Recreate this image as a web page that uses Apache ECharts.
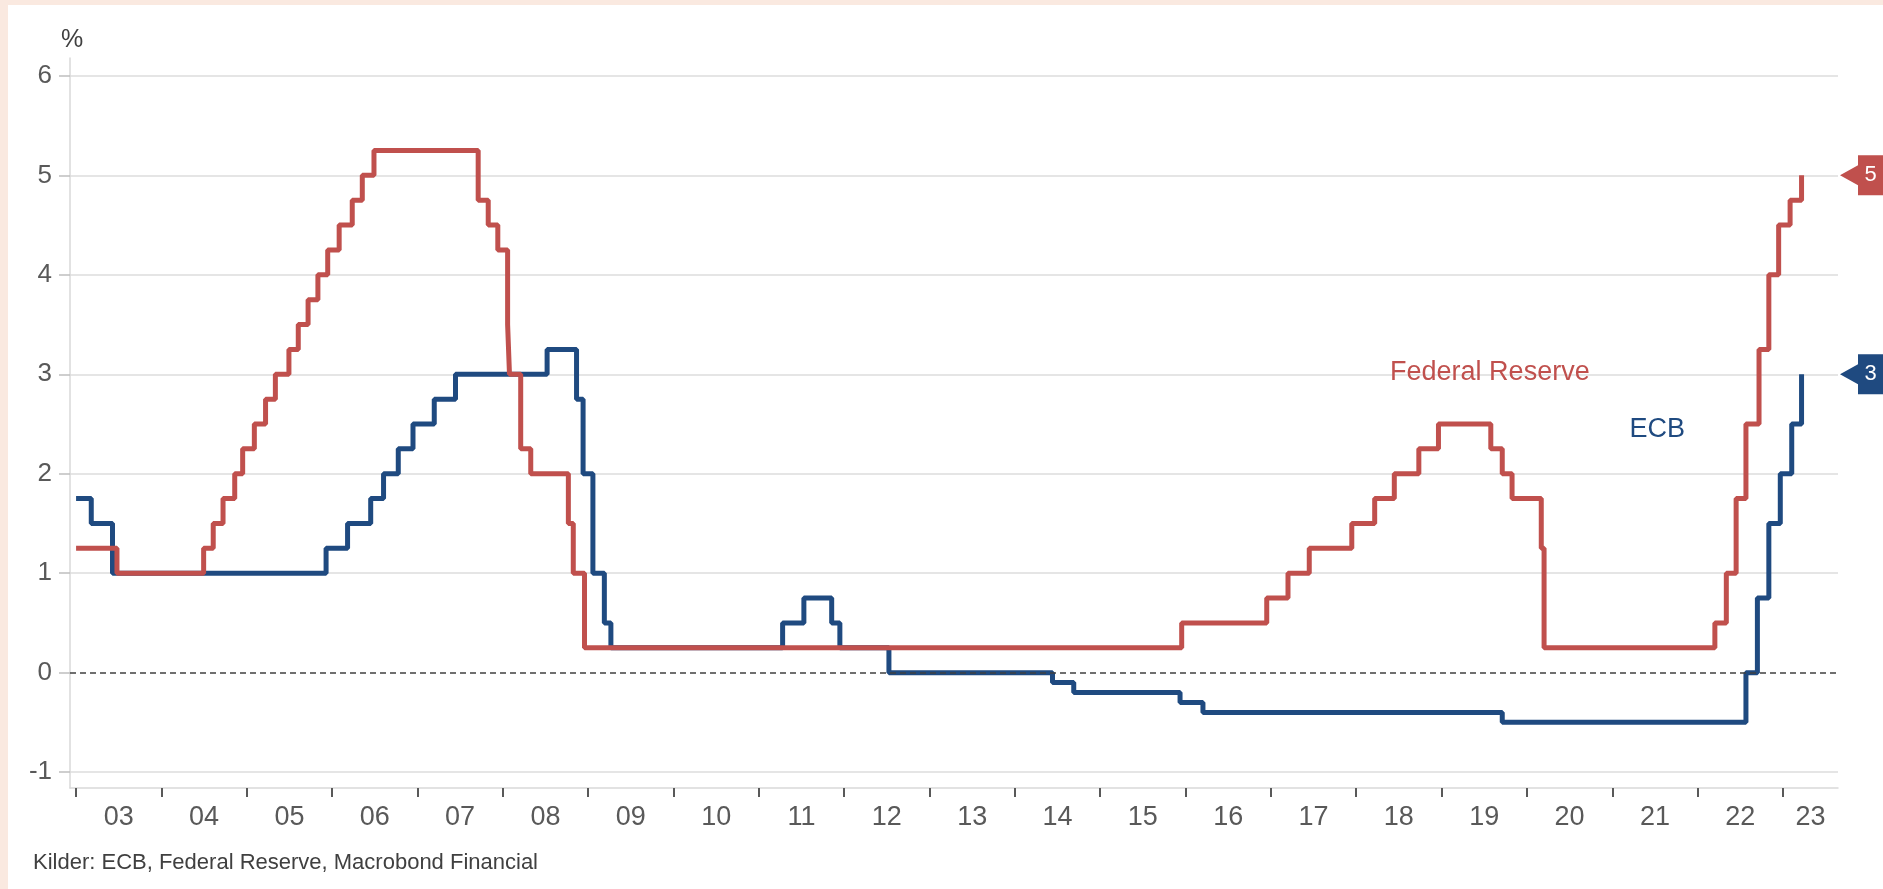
<!DOCTYPE html>
<html>
<head>
<meta charset="utf-8">
<script src="https://cdn.jsdelivr.net/npm/echarts@6.0.0/dist/echarts.min.js"></script>
<style>
  html, body { margin: 0; padding: 0; background: #fae9e0; }
  #chart { position: absolute; left: 8px; top: 5px; width: 1875px; height: 884px; background: #ffffff; }
</style>
</head>
<body>
<div id="chart"></div>
<script>
// ---------- DATA ----------
const yearLabels = ['03','04','05','06','07','08','09','10','11','12','13','14','15','16','17','18','19','20','21','22','23'];
const yTickValues = [-1, 0, 1, 2, 3, 4, 5, 6];

// Federal Reserve (target rate, upper bound) – change dates and new levels
const fedDates = ['2003-01-01','2003-06-25','2004-06-30','2004-08-10','2004-09-21','2004-11-10','2004-12-14',
  '2005-02-02','2005-03-22','2005-05-03','2005-06-30','2005-08-09','2005-09-20','2005-11-01','2005-12-13',
  '2006-01-31','2006-03-28','2006-05-10','2006-06-29','2007-09-18','2007-10-31','2007-12-11','2008-01-22',
  '2008-01-30','2008-03-18','2008-04-30','2008-10-08','2008-10-29','2008-12-16','2015-12-16','2016-12-14',
  '2017-03-15','2017-06-14','2017-12-13','2018-03-21','2018-06-13','2018-09-26','2018-12-19','2019-07-31',
  '2019-09-18','2019-10-30','2020-03-03','2020-03-15','2022-03-16','2022-05-04','2022-06-15','2022-07-27',
  '2022-09-21','2022-11-02','2022-12-14','2023-02-01','2023-03-22'];
const fedRates = [1.25,1.00,1.25,1.50,1.75,2.00,2.25,
  2.50,2.75,3.00,3.25,3.50,3.75,4.00,4.25,
  4.50,4.75,5.00,5.25,4.75,4.50,4.25,3.50,
  3.00,2.25,2.00,1.50,1.00,0.25,0.50,0.75,
  1.00,1.25,1.50,1.75,2.00,2.25,2.50,2.25,
  2.00,1.75,1.25,0.25,0.50,1.00,1.75,2.50,
  3.25,4.00,4.50,4.75,5.00];

// ECB (deposit facility rate) – change dates and new levels
const ecbDates = ['2003-01-01','2003-03-07','2003-06-06','2005-12-06','2006-03-08','2006-06-15','2006-08-09',
  '2006-10-11','2006-12-13','2007-03-14','2007-06-13','2008-07-09','2008-11-12','2008-12-10','2009-01-21',
  '2009-03-11','2009-04-08','2011-04-13','2011-07-13','2011-11-09','2011-12-14','2012-07-11','2014-06-11',
  '2014-09-10','2015-12-09','2016-03-16','2019-09-18','2022-07-27','2022-09-14','2022-11-02','2022-12-21',
  '2023-02-08','2023-03-22'];
const ecbRates = [1.75,1.50,1.00,1.25,1.50,1.75,2.00,
  2.25,2.50,2.75,3.00,3.25,2.75,2.00,1.00,
  0.50,0.25,0.50,0.75,0.50,0.25,0.00,-0.10,
  -0.20,-0.30,-0.40,-0.50,0.00,0.75,1.50,2.00,
  2.50,3.00];

const seriesNames = ['ECB', 'Federal Reserve'];
const sourceText = 'Kilder: ECB, Federal Reserve, Macrobond Financial';

// ---------- BUILD ----------
function ts(s) { const p = s.split('-').map(Number); return Date.UTC(p[0], p[1] - 1, p[2]); }
const xMin = ts('2002-12-06');
const xMax = ts('2023-08-25');

const fedData = fedDates.map((d, i) => [ts(d), fedRates[i]]);
const ecbData = ecbDates.map((d, i) => [ts(d), ecbRates[i]]);

const yearStarts = yearLabels.map(l => Date.UTC(2000 + Number(l), 0, 1));
const labelMap = {};
const labelValues = yearLabels.map((l, i) => {
  const a = Math.max(yearStarts[i], xMin);
  const b = Math.min(Date.UTC(2000 + Number(l) + 1, 0, 1), xMax);
  const c = Math.round((a + b) / 2);
  labelMap[c] = l;
  return c;
});

const RED = '#c0504d';
const BLUE = '#1f4a80';
const FONT = 'Liberation Sans, Arial, sans-serif';

const chart = echarts.init(document.getElementById('chart'), null, { renderer: 'canvas' });
const option = {
  animation: false,
  backgroundColor: '#ffffff',
  textStyle: { fontFamily: FONT },
  title: {
    text: sourceText, left: 25, top: 847, padding: 0,
    textStyle: { fontSize: 22, fontWeight: 'normal', color: '#404040', fontFamily: FONT }
  },
  grid: { left: 62, right: 45, top: 53, bottom: 101, containLabel: false },
  xAxis: {
    type: 'value', min: xMin, max: xMax, scale: true,
    axisLine: { show: true, onZero: false, lineStyle: { color: '#d9d9d9', width: 1.5 } },
    axisTick: { show: true, length: 9, customValues: yearStarts, lineStyle: { color: '#595959', width: 2 } },
    axisLabel: {
      customValues: labelValues, margin: 16, fontSize: 27, color: '#595959', fontFamily: FONT,
      formatter: v => labelMap[v] !== undefined ? labelMap[v] : ''
    },
    splitLine: { show: false }
  },
  yAxis: {
    type: 'value', min: -1.16, max: 6.18,
    name: '%', nameLocation: 'end', nameGap: 5,
    nameTextStyle: { fontSize: 25, color: '#404040', fontFamily: FONT, padding: [0, 0, 0, 4] },
    axisLine: { show: true, lineStyle: { color: '#d9d9d9', width: 1.5 } },
    axisTick: { show: true, length: 11, customValues: yTickValues, lineStyle: { color: '#bfbfbf', width: 1.5 } },
    axisLabel: { customValues: yTickValues, margin: 18, fontSize: 26, color: '#595959', fontFamily: FONT },
    splitLine: {
      show: true,
      lineStyle: { width: 1.5, color: yTickValues.map(v => v === 0 ? 'rgba(0,0,0,0)' : '#dcdcdc') }
    }
  },
  series: [
    {
      type: 'line', data: [], z: 1, silent: true,
      markLine: {
        silent: true, symbol: 'none', label: { show: false },
        lineStyle: { color: '#404040', type: [6, 4], width: 1.5 },
        data: [{ yAxis: 0 }]
      }
    },
    {
      name: seriesNames[0], type: 'line', step: 'end', data: ecbData, showSymbol: false, z: 3,
      lineStyle: { color: BLUE, width: 5 }, itemStyle: { color: BLUE },
      markPoint: {
        silent: true, symbol: 'circle', symbolSize: 1, itemStyle: { color: 'rgba(0,0,0,0)' },
        data: [{ coord: [ts('2021-07-12'), 2.44], label: { show: true, position: 'inside', formatter: seriesNames[0], color: BLUE, fontSize: 27, fontFamily: FONT } }]
      }
    },
    {
      name: seriesNames[1], type: 'line', step: 'end', data: fedData, showSymbol: false, z: 4,
      lineStyle: { color: RED, width: 5 }, itemStyle: { color: RED },
      markPoint: {
        silent: true, symbol: 'circle', symbolSize: 1, itemStyle: { color: 'rgba(0,0,0,0)' },
        data: [{ coord: [ts('2019-07-27'), 3.015], label: { show: true, position: 'inside', formatter: seriesNames[1], color: RED, fontSize: 27, fontFamily: FONT } }]
      }
    }
  ]
};
chart.setOption(option);

// end-value badges on the right, placed through the y scale
function badge(val, color) {
  const y = chart.convertToPixel({ yAxisIndex: 0 }, val);
  const tip = 1832, l = 1850, r = 1875;
  return [
    { type: 'polygon', silent: true, shape: { points: [[tip, y], [l, y - 10], [l, y - 20], [r, y - 20], [r, y + 20], [l, y + 20], [l, y + 10]] }, style: { fill: color } },
    { type: 'text', silent: true, x: (l + r) / 2, y: y, style: { text: String(val), fill: '#ffffff', fontSize: 22, fontFamily: FONT, align: 'center', verticalAlign: 'middle' } }
  ];
}
chart.setOption({ graphic: [].concat(badge(fedRates[fedRates.length - 1], RED), badge(ecbRates[ecbRates.length - 1], BLUE)) });
</script>
</body>
</html>
